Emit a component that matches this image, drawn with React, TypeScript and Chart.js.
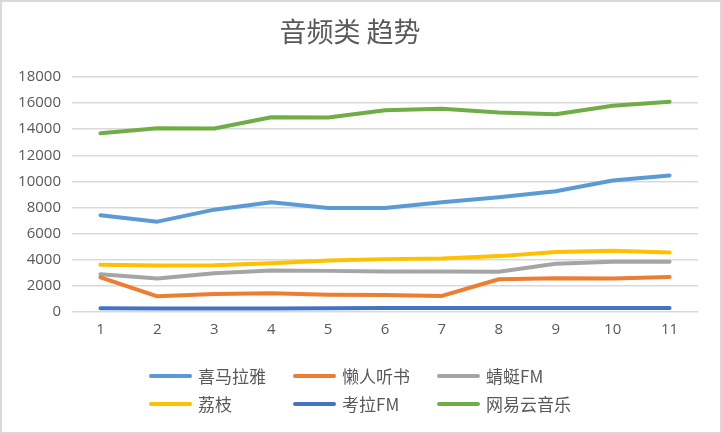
import React, { useEffect, useRef } from "react";
import { Chart, registerables } from "chart.js";

Chart.register(...registerables);

const categories = ["1", "2", "3", "4", "5", "6", "7", "8", "9", "10", "11"];
const seriesNames = ["喜马拉雅", "懒人听书", "蜻蜓FM", "荔枝", "考拉FM", "网易云音乐"];
const ximalaya = [7410, 6920, 7840, 8410, 7970, 7970, 8410, 8790, 9250, 10070, 10460];
const lanren = [2660, 1200, 1380, 1430, 1330, 1310, 1230, 2510, 2590, 2560, 2690];
const qingting = [2900, 2560, 2970, 3180, 3150, 3100, 3100, 3080, 3690, 3850, 3850];
const lizhi = [3610, 3560, 3590, 3740, 3950, 4050, 4100, 4280, 4590, 4690, 4560];
const kaola = [280, 270, 270, 270, 280, 300, 300, 310, 310, 300, 300];
const wangyiyun = [13690, 14070, 14050, 14920, 14890, 15450, 15560, 15280, 15150, 15790, 16100];
const seriesValues = [ximalaya, lanren, qingting, lizhi, kaola, wangyiyun];
const seriesColors = ["#5B9BD5", "#ED7D31", "#A5A5A5", "#FFC000", "#4472C4", "#70AD47"];
const yTicks = [0, 2000, 4000, 6000, 8000, 10000, 12000, 14000, 16000, 18000];
const titleText = "音频类 趋势";

const TEXT = "#595959";
const GRID = "#D9D9D9";

export default function App() {
  const canvasRef = useRef<HTMLCanvasElement | null>(null);

  useEffect(() => {
    if (!canvasRef.current) return;
    const chart = new Chart(canvasRef.current, {
      type: "line",
      data: {
        labels: categories,
        datasets: seriesNames.map((name, i) => ({
          label: name,
          data: seriesValues[i],
          borderColor: seriesColors[i],
          backgroundColor: seriesColors[i],
          borderWidth: 4,
          pointRadius: 0,
          pointHoverRadius: 0,
          tension: 0,
          borderCapStyle: "round" as const,
          borderJoinStyle: "round" as const,
          fill: false,
        })),
      },
      options: {
        animation: false,
        responsive: true,
        maintainAspectRatio: false,
        layout: { padding: { left: 0, right: 22, top: 0, bottom: 93 } },
        plugins: {
          legend: { display: false },
          tooltip: { enabled: false },
          title: {
            display: true,
            text: titleText,
            color: TEXT,
            font: { family: "'Noto Sans CJK SC', sans-serif", size: 27, weight: "normal" },
            padding: { top: 14, bottom: 28.6 },
          },
        },
        scales: {
          x: {
            type: "category",
            offset: true,
            grid: { display: false, drawTicks: false },
            border: { display: false },
            ticks: {
              color: TEXT,
              padding: 9,
              font: { family: "'Open Sans', sans-serif", size: 15 },
              maxRotation: 0,
            },
            afterFit: (scale: any) => {
              scale.height = 27;
            },
          },
          y: {
            min: yTicks[0],
            max: yTicks[yTicks.length - 1],
            afterBuildTicks: (scale: any) => {
              scale.ticks = yTicks.map((v) => ({ value: v }));
            },
            grid: { color: GRID, lineWidth: 1.5, drawTicks: false },
            border: { display: false },
            ticks: {
              color: TEXT,
              padding: 11,
              font: { family: "'Open Sans', sans-serif", size: 15 },
              callback: (v: any) => String(v),
            },
            afterFit: (scale: any) => {
              scale.width = 70;
            },
          },
        },
      },
    });
    return () => chart.destroy();
  }, []);

  return (
    <div
      style={{
        position: "absolute",
        left: 0,
        top: 0,
        width: 722,
        height: 434,
        boxSizing: "border-box",
        border: `2px solid ${GRID}`,
        background: "#fff",
      }}
    >
      <div style={{ position: "absolute", left: 0, top: 0, width: 718, height: 430 }}>
        <canvas ref={canvasRef} />
      </div>
      <div
        style={{
          position: "absolute",
          left: 147,
          top: 360,
          display: "grid",
          gridTemplateColumns: "144px 144px 144px",
          gridAutoRows: "28px",
          fontFamily: "'Noto Sans CJK SC', sans-serif",
          fontSize: 17,
          color: TEXT,
        }}
      >
        {seriesNames.map((name, i) => (
          <div key={name} style={{ display: "flex", alignItems: "center", whiteSpace: "nowrap" }}>
            <span
              style={{
                display: "inline-block",
                width: 43,
                height: 4,
                borderRadius: 2,
                background: seriesColors[i],
                marginRight: 6,
              }}
            />
            <span style={{ lineHeight: "28px" }}>{name}</span>
          </div>
        ))}
      </div>
    </div>
  );
}
